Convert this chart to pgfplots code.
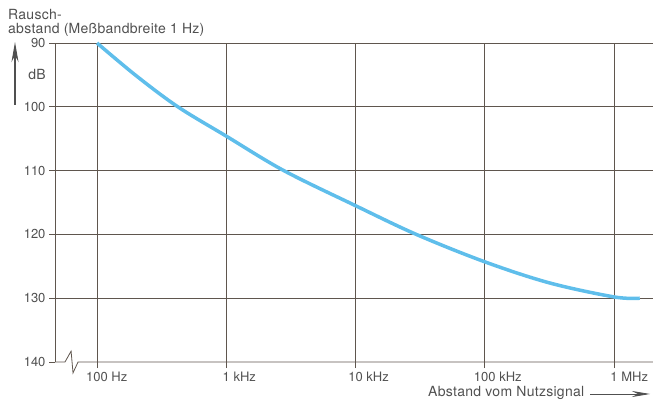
\documentclass[border=0pt]{standalone}
\usepackage{pgfplots}
\pgfplotsset{compat=1.18}
\usepackage{fontspec}
\setmainfont{TeX Gyre Heros}
\usetikzlibrary{arrows.meta}
\definecolor{gridc}{RGB}{95,86,78}
\definecolor{txt}{RGB}{80,80,80}
\definecolor{curve}{RGB}{95,190,235}
\newcommand\tl[2]{\sbox0{#1}\makebox[0pt][l]{\hspace{-0.5\wd0}#1 #2}}
\newcommand\tf{\fontsize{14}{15}\selectfont\addfontfeature{LetterSpace=2}}
\begin{document}
\begin{tikzpicture}
\useasboundingbox (0pt,0pt) rectangle (653pt,401pt);
\begin{axis}[
 at={(55pt,39pt)}, anchor=south west,
 scale only axis, width=598pt, height=319pt,
 xmode=log, xmin=47.3, xmax=2.0e6,
 ymin=90, ymax=140, y dir=reverse,
 axis line style={draw=none},
 xtick={100,1000,10000,100000,1000000},
 xticklabels={\tl{100}{Hz},\tl{1}{kHz},\tl{10}{kHz},\tl{100}{kHz},\tl{1}{MHz}},
 xminorticks=false,
 ytick={90,100,...,130},
 extra y ticks={140}, extra y tick style={grid=none},
 grid=major, major grid style={gridc, line width=0.8pt},
 tick align=outside, ytick pos=left, xtick pos=left,
 xticklabel pos=lower,
 major tick length=6pt,
 tick style={gridc, line width=0.8pt},
 ticklabel style={font=\fontsize{13}{13}\selectfont, text=txt},
 /pgf/number format/assume math mode=true,
 clip=false,
]
\addplot[curve, line width=3.5pt, smooth, tension=0.55] coordinates {
 (100,90) (200,95.1) (422,100) (1000,104.6) (2786,110) (10000,115.5)
 (29500,120) (100000,124.3) (316000,127.6) (1000000,129.8) (1580000,130.0)};
\draw[gridc, line width=0.8pt] (axis cs:47.3,90) -- (axis cs:47.3,140);
\draw[gridc, line width=0.8pt] (axis cs:47.3,140) -- (axis cs:56.5,140) -- (axis cs:63.0,138.3) -- (axis cs:65.2,141.7) -- (axis cs:71.3,140) -- (axis cs:2.0e6,140);
\end{axis}
\begin{scope}[font=\tf, text=txt]
\node[anchor=base west, inner sep=0] at (8pt,381pt) {Rausch-};
\node[anchor=base west, inner sep=0] at (8pt,367pt) {abstand (Meßbandbreite 1 Hz)};
\node[anchor=base, inner sep=0] at (37pt,321pt) {dB};
\node[anchor=base west, inner sep=0] at (428pt,4pt) {Abstand vom Nutzsignal};
\end{scope}
\draw[-{Stealth[length=20pt,width=7pt]}, line width=1.2pt, txt] (15pt,296pt) -- (15pt,359pt);
\draw[-{Stealth[length=18pt,width=6pt]}, line width=0.8pt, txt] (590pt,7pt) -- (650pt,7pt);
\end{tikzpicture}
\end{document}
